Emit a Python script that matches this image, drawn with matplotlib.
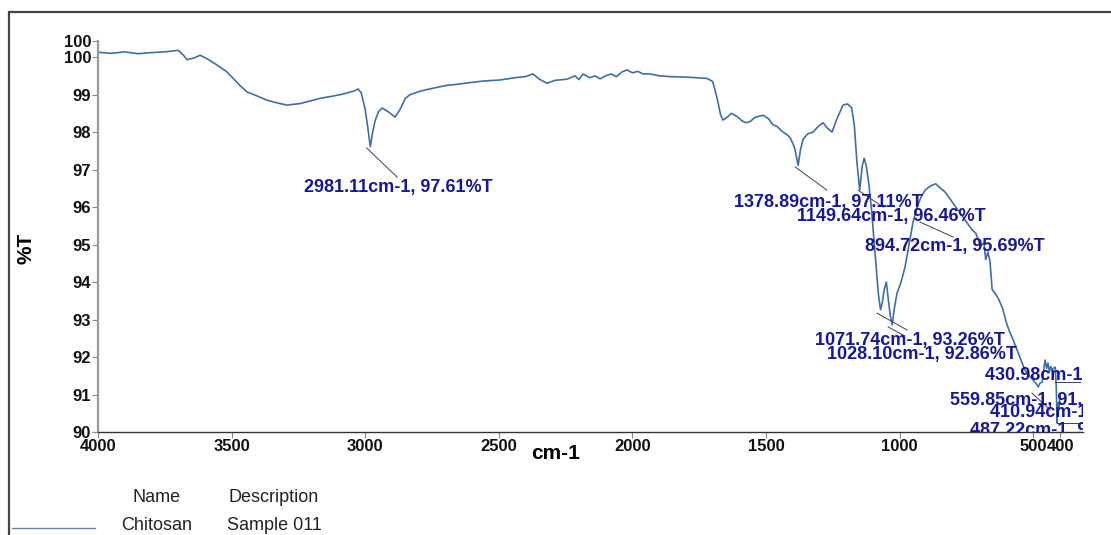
import matplotlib.pyplot as plt
from matplotlib.patches import Rectangle
from matplotlib.lines import Line2D

plt.rcParams['font.family'] = ['Liberation Sans', 'DejaVu Sans']

# spectrum (wavenumber cm-1, %T)
wavenumber = [4000, 3950, 3900, 3850, 3800, 3750, 3700, 3680, 3667, 3640, 3618, 3590, 3555, 3520,
              3495, 3470, 3442, 3400, 3368, 3330, 3293, 3244, 3200, 3169, 3121, 3080, 3040, 3027,
              3015, 3000, 2990, 2981, 2972, 2963, 2950, 2937, 2915, 2889, 2870, 2850, 2832, 2790,
              2746, 2700, 2650, 2619, 2560, 2496, 2440, 2400, 2372, 2350, 2320, 2290, 2245, 2215,
              2200, 2185, 2160, 2140, 2121, 2100, 2080, 2060, 2040, 2020, 2000, 1980, 1960, 1934,
              1900, 1860, 1811, 1760, 1720, 1700, 1690, 1680, 1670, 1661, 1645, 1630, 1609, 1590,
              1575, 1560, 1540, 1511, 1490, 1475, 1459, 1440, 1420, 1410, 1400, 1392, 1385, 1380,
              1372, 1362, 1345, 1324, 1305, 1287, 1270, 1253, 1235, 1212, 1195, 1180, 1170, 1160,
              1149.6, 1140, 1133, 1125, 1115, 1105, 1090, 1080, 1071.7, 1065, 1058, 1050, 1042,
              1035, 1028.1, 1020, 1010, 995, 980, 965, 950, 935, 920, 905, 893, 880, 865, 850, 830,
              810, 790, 770, 750, 730, 715, 705, 698, 692, 685, 678, 670, 662, 654, 643, 630, 615,
              600, 590, 575, 561, 545, 531, 515, 501, 490, 482, 475, 467, 462, 456, 450, 445, 440,
              435, 430, 425, 418, 414, 411, 409, 407, 404, 400]
transmittance = [100.13, 100.10, 100.14, 100.09, 100.12, 100.14, 100.18, 100.05, 99.93, 99.98, 100.05,
                 99.95, 99.79, 99.62, 99.44, 99.25, 99.07, 98.95, 98.85, 98.78, 98.72, 98.76, 98.84,
                 98.90, 98.96, 99.02, 99.10, 99.15, 99.05, 98.60, 98.10, 97.61, 98.00, 98.30, 98.55,
                 98.64, 98.55, 98.40, 98.60, 98.90, 99.00, 99.10, 99.17, 99.24, 99.28, 99.31, 99.36,
                 99.39, 99.45, 99.48, 99.55, 99.42, 99.30, 99.38, 99.41, 99.50, 99.40, 99.55, 99.45,
                 99.50, 99.42, 99.50, 99.55, 99.48, 99.60, 99.66, 99.58, 99.62, 99.55, 99.55, 99.50,
                 99.48, 99.47, 99.45, 99.43, 99.35, 99.10, 98.80, 98.45, 98.32, 98.40, 98.50, 98.42,
                 98.30, 98.25, 98.28, 98.40, 98.45, 98.35, 98.20, 98.15, 98.02, 97.92, 97.85, 97.70,
                 97.55, 97.30, 97.11, 97.50, 97.80, 97.95, 98.00, 98.15, 98.25, 98.10, 98.00, 98.35,
                 98.72, 98.75, 98.65, 98.20, 97.20, 96.46, 97.10, 97.30, 97.10, 96.60, 95.90, 94.60,
                 93.70, 93.26, 93.45, 93.80, 94.00, 93.50, 93.10, 92.86, 93.30, 93.70, 94.00, 94.40,
                 95.00, 95.60, 96.00, 96.27, 96.45, 96.52, 96.58, 96.62, 96.52, 96.40, 96.20, 96.00,
                 95.80, 95.60, 95.40, 95.30, 95.10, 94.95, 95.00, 95.04, 94.60, 94.80, 94.55, 93.80,
                 93.70, 93.55, 93.30, 92.90, 92.70, 92.45, 92.19, 91.90, 91.65, 91.50, 91.39, 91.30,
                 91.20, 91.30, 91.33, 91.60, 91.92, 91.70, 91.84, 91.60, 91.75, 91.65, 91.70, 91.73,
                 91.20, 90.24, 90.60, 90.77, 90.60, 91.00]

# peak labels: text, text position, leader start, leader end
peak_labels = ['2981.11cm-1, 97.61%T', '1378.89cm-1, 97.11%T', '1149.64cm-1, 96.46%T',
               '894.72cm-1, 95.69%T', '1071.74cm-1, 93.26%T', '1028.10cm-1, 92.86%T',
               '430.98cm-1, 91.65%T', '559.85cm-1, 91.92%T', '410.94cm-1, 90.24%T',
               '487.22cm-1, 91.20%T']
label_xy = [(2877, 96.53), (1268, 96.11), (1032, 95.76), (793, 94.96), (961, 92.45),
            (916, 92.08), (680, 91.52), (811, 90.83), (662, 90.51), (737, 90.03)]
label_ha = ['center'] * 6 + ['left'] * 4
leader_from = [(2995, 97.58), (1391, 97.07), (1155, 96.45), (924, 95.6), (1085, 93.17),
               (1043, 92.8), (418, 91.33), (505, 91.04), None, (411, 90.24)]
leader_to = [(2881, 96.8), (1272, 96.45), (1062, 96.0), (800, 95.2), (972, 92.72),
             (980, 92.56), (325, 91.33), (437, 90.59), None, (314, 90.24)]

y_ticks = [90, 91, 92, 93, 94, 95, 96, 97, 98, 99, 100, 100.43]
y_tick_labels = ['90', '91', '92', '93', '94', '95', '96', '97', '98', '99', '100', '100']
x_ticks = [4000, 3500, 3000, 2500, 2000, 1500, 1000, 500, 400]
x_tick_labels = ['4000', '3500', '3000', '2500', '2000', '1500', '1000', '500', '400']

line_color = '#3f6fa8'
label_color = '#17179c'

fig = plt.figure(figsize=(11.11, 5.35), dpi=100)
ax = fig.add_axes([0.0882, 0.1925, 0.8866, 0.7309])

ax.plot(wavenumber, transmittance, color=line_color, lw=1.2)
ax.set_xlim(4000, 314)
ax.set_ylim(90, 100.43)

for txt, (tx, ty), ha, p0, p1 in zip(peak_labels, label_xy, label_ha, leader_from, leader_to):
    if p0 is not None:
        ax.plot([p0[0], p1[0]], [p0[1], p1[1]], color='#403c5c', lw=0.7)
    ax.text(tx, ty, txt, ha=ha, va='center', fontsize=13, fontweight='bold',
            color=label_color, clip_on=True)

ax.set_xticks(x_ticks)
ax.set_xticklabels(x_tick_labels)
ax.set_yticks(y_ticks)
ax.set_yticklabels(y_tick_labels)
ax.tick_params(axis='both', labelsize=12, length=4, width=0.8, pad=1, colors='#111111')
ax.tick_params(axis='x', color='#888888')
ax.tick_params(axis='y', color='#888888')
for lab in ax.get_xticklabels() + ax.get_yticklabels():
    lab.set_fontweight('bold')

ax.spines['top'].set_visible(False)
ax.spines['right'].set_visible(False)
ax.spines['left'].set_color('#999999')
ax.spines['left'].set_linewidth(1.6)
ax.spines['bottom'].set_color('#333333')
ax.spines['bottom'].set_linewidth(1.0)

ax.set_xlabel('cm-1', fontsize=15, fontweight='bold')
ax.xaxis.set_label_coords((556 - 98) / 985, -0.03)
ax.set_ylabel('%T', fontsize=15, fontweight='bold')
ax.yaxis.set_label_coords(-0.063, 0.47)

# outer frame
fig.patches.append(Rectangle((9 / 1111, -0.2), 1.2, (535 - 12) / 535 + 0.2,
                             transform=fig.transFigure, fill=False,
                             edgecolor='#444444', lw=1.6))

# legend table
fig.add_artist(Line2D([12 / 1111, 95 / 1111], [1 - 528 / 535, 1 - 528 / 535],
                      transform=fig.transFigure, color='#6a80aa', lw=1.0))
fig.text(157 / 1111, 1 - 497 / 535, 'Name', ha='center', va='center', fontsize=13, color='#222222')
fig.text(274 / 1111, 1 - 497 / 535, 'Description', ha='center', va='center', fontsize=13, color='#222222')
fig.text(157 / 1111, 1 - 526 / 535, 'Chitosan', ha='center', va='center', fontsize=13, color='#222222')
fig.text(274 / 1111, 1 - 526 / 535, 'Sample 011', ha='center', va='center', fontsize=13, color='#222222')

fig.savefig('out.png', dpi=100)
